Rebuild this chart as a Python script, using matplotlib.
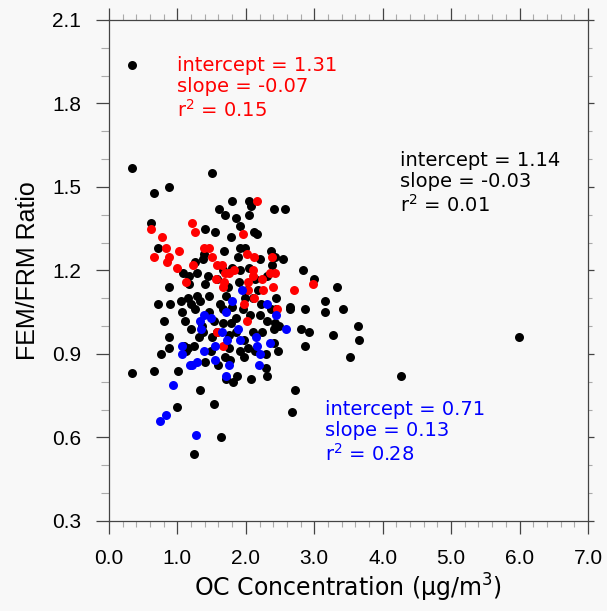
# FEM/FRM ratio vs OC concentration scatter

import matplotlib
matplotlib.use('Agg')
import matplotlib.pyplot as plt
from matplotlib.ticker import MultipleLocator, FormatStrFormatter

# Все точки (чёрные)
black_x = [0.34, 0.33, 0.33, 0.66, 0.88, 1.50, 0.62, 0.72, 0.88, 0.72, 0.80, 0.89, 0.88, 0.88,
           0.76, 0.66, 1.01, 0.99, 1.33, 1.54, 1.63, 1.24, 2.68, 2.72, 4.27, 5.99, 3.64, 3.65,
           3.52, 3.27, 3.42, 3.33, 3.15, 3.15, 2.84, 2.99, 2.86, 2.80, 2.87, 2.93, 2.57, 2.41,
           2.54, 2.64, 2.65, 2.47, 2.41, 2.31, 2.29, 2.08, 1.87, 1.81, 1.71, 1.80, 2.05, 2.07,
           2.05, 1.61, 1.70, 1.85, 1.41, 1.55, 1.78, 1.92, 2.12, 2.17, 1.68, 1.91, 1.99, 2.37,
           2.42, 2.38, 2.20, 1.88, 1.80, 1.39, 1.38, 1.25, 1.29, 1.08, 1.17, 1.17, 1.45, 1.40,
           1.29, 1.33, 1.05, 1.16, 1.20, 1.07, 1.11, 1.20, 1.36, 1.31, 1.46, 1.54, 1.67, 1.62,
           1.71, 1.74, 1.90, 2.01, 2.18, 2.10, 2.22, 2.37, 2.44, 2.44, 2.43, 2.41, 2.31, 2.20,
           2.06, 1.96, 1.86, 1.79, 1.67, 1.58, 1.75, 1.86, 1.97, 2.10, 2.24, 2.29, 2.14, 1.98,
           1.76, 1.70, 1.49, 1.41, 1.24, 1.16, 1.38, 1.51, 1.10, 1.12, 1.60, 1.77, 1.92, 2.03,
           1.80, 1.99, 1.58, 1.66, 1.92, 2.05, 2.14, 2.31, 2.48, 1.46, 1.25]
black_y = [1.94, 1.57, 0.83, 1.48, 1.50, 1.55, 1.37, 1.28, 1.14, 1.08, 1.02, 1.08, 0.96, 0.92,
           0.90, 0.84, 0.84, 0.71, 0.77, 0.72, 0.60, 0.54, 0.69, 0.77, 0.82, 0.96, 1.00, 0.95,
           0.89, 0.97, 1.06, 1.14, 1.09, 1.05, 1.20, 1.17, 1.06, 0.99, 0.93, 0.98, 1.42, 1.42,
           1.24, 1.07, 1.06, 0.91, 0.94, 0.82, 0.85, 0.81, 0.82, 0.80, 0.81, 1.45, 1.45, 1.43,
           1.40, 1.42, 1.40, 1.39, 1.35, 1.34, 1.32, 1.36, 1.34, 1.33, 1.27, 1.28, 1.28, 1.27,
           1.25, 1.22, 1.24, 1.25, 1.21, 1.26, 1.24, 1.23, 1.19, 1.19, 1.18, 1.15, 1.18, 1.15,
           1.11, 1.09, 1.09, 1.10, 1.08, 1.05, 1.02, 0.99, 1.00, 0.96, 1.05, 1.02, 1.06, 1.08,
           1.11, 1.14, 1.16, 1.13, 1.13, 1.10, 1.08, 1.06, 1.10, 1.06, 1.01, 0.99, 1.02, 1.04,
           1.04, 1.06, 1.03, 1.01, 1.01, 0.98, 0.97, 0.98, 0.95, 0.98, 0.98, 0.90, 0.91, 0.89,
           0.92, 0.89, 0.91, 0.87, 0.93, 0.92, 0.98, 0.96, 0.93, 0.91, 0.86, 0.88, 0.91, 0.92,
           1.07, 1.10, 1.17, 1.20, 1.20, 1.21, 1.17, 1.18, 1.00, 1.11, 1.06]

# Красная группа
red_x = [0.62, 0.77, 0.66, 0.83, 0.87, 0.85, 1.02, 1.00, 1.22, 1.26, 1.39, 1.46, 1.50, 1.23,
         1.13, 1.58, 1.65, 1.57, 1.69, 1.76, 1.83, 1.68, 1.66, 1.96, 2.16, 2.02, 2.12, 2.10,
         2.10, 2.03, 2.23, 2.25, 2.03, 2.38, 2.35, 2.43, 2.39, 2.70, 2.98, 2.45, 1.97, 2.12,
         2.01, 1.58, 1.67]
red_y = [1.35, 1.32, 1.25, 1.28, 1.25, 1.23, 1.27, 1.21, 1.37, 1.34, 1.28, 1.28, 1.25, 1.22,
         1.16, 1.22, 1.22, 1.17, 1.19, 1.19, 1.20, 1.16, 1.14, 1.33, 1.45, 1.26, 1.25, 1.20,
         1.18, 1.16, 1.17, 1.13, 1.13, 1.25, 1.19, 1.19, 1.14, 1.13, 1.15, 1.06, 1.08, 1.10,
         1.02, 0.98, 0.93]

# Синяя группа
blue_x = [0.75, 0.84, 0.93, 1.27, 1.07, 1.07, 1.19, 1.22, 1.29, 1.39, 1.35, 1.33, 1.39, 1.49,
          1.55, 1.55, 1.71, 1.76, 1.72, 1.65, 1.71, 1.80, 1.94, 1.88, 1.92, 2.15, 2.17, 2.21,
          2.19, 2.36, 2.31, 2.44, 2.59]
blue_y = [0.66, 0.68, 0.79, 0.61, 0.93, 0.90, 0.86, 0.86, 0.87, 0.91, 0.99, 1.02, 1.04, 1.03,
          0.93, 0.88, 0.82, 0.86, 0.95, 0.98, 1.05, 1.09, 1.13, 0.99, 0.95, 0.96, 0.93, 0.90,
          0.86, 0.94, 1.08, 1.04, 0.99]

# Подписи регрессий: (x, y, текст, цвет)
stats = [
    (1.0, 1.97, 'intercept = 1.31\nslope = -0.07\nr$^{2}$ = 0.15', 'red'),
    (4.26, 1.63, 'intercept = 1.14\nslope = -0.03\nr$^{2}$ = 0.01', 'black'),
    (3.15, 0.735, 'intercept = 0.71\nslope = 0.13\nr$^{2}$ = 0.28', 'blue'),
]

plt.rcParams['mathtext.fontset'] = 'dejavusans'
bg = '#f8f8f8'

fig = plt.figure(figsize=(6.07, 6.11), dpi=100, facecolor=bg)
ax = fig.add_axes([0.1796, 0.1473, 0.789, 0.82])
ax.set_facecolor(bg)

ax.scatter(black_x, black_y, s=42, c='black', linewidths=0, zorder=3)
ax.scatter(red_x, red_y, s=42, c='#ff0000', linewidths=0, zorder=4)
ax.scatter(blue_x, blue_y, s=42, c='#0000ff', linewidths=0, zorder=5)

for x, y, txt, col in stats:
    ax.text(x, y, txt, color=col, fontsize=14, family='DejaVu Sans',
            va='top', ha='left', linespacing=1.15)

ax.set_xlim(0, 7)
ax.set_ylim(0.3, 2.1)
ax.xaxis.set_major_locator(MultipleLocator(1.0))
ax.xaxis.set_minor_locator(MultipleLocator(0.2))
ax.yaxis.set_major_locator(MultipleLocator(0.3))
ax.yaxis.set_minor_locator(MultipleLocator(0.1))
ax.xaxis.set_major_formatter(FormatStrFormatter('%.1f'))
ax.yaxis.set_major_formatter(FormatStrFormatter('%.1f'))

for sp in ax.spines.values():
    sp.set_color('#444444')
    sp.set_linewidth(0.9)

ax.tick_params(which='both', direction='out', top=True, right=True, color='#444444')
ax.tick_params(axis='x', which='major', length=9, width=0.9, pad=11)
ax.tick_params(axis='y', which='major', length=9.5, width=0.9, pad=10.5)
ax.tick_params(axis='x', which='minor', length=4.5, width=0.8, color='#aaaaaa')
ax.tick_params(axis='y', which='minor', length=6, width=0.8, color='#aaaaaa')
for lab in ax.get_xticklabels() + ax.get_yticklabels():
    lab.set_fontfamily('Liberation Sans')
    lab.set_fontsize(15)

# справа засечки короче
for t in ax.yaxis.get_major_ticks():
    t.tick2line.set_markersize(4.3)
for t in ax.yaxis.get_minor_ticks():
    t.tick2line.set_markersize(3)

ax.set_xlabel('OC Concentration (μg/m$^{3}$)', fontsize=17, family='DejaVu Sans', labelpad=3)
ax.set_ylabel('FEM/FRM Ratio', fontsize=18, family='Liberation Sans', labelpad=9)

fig.savefig('out.png', dpi=100, facecolor=bg)
